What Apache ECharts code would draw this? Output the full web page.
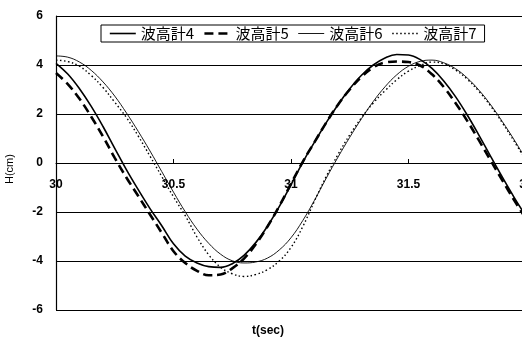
<!DOCTYPE html>
<html>
<head>
<meta charset="utf-8">
<script src="https://cdn.jsdelivr.net/npm/echarts@6/dist/echarts.min.js"></script>
<style>
html,body{margin:0;padding:0;background:#fff;}
#c{width:522px;height:338px;}
</style>
</head>
<body>
<div id="c"></div>
<script>
// time (sec)
var times = [30.00,30.05,30.10,30.15,30.20,30.25,30.30,30.35,30.40,30.45,
             30.50,30.55,30.60,30.65,30.70,30.75,30.80,30.85,30.90,30.95,
             31.00,31.05,31.10,31.15,31.20,31.25,31.30,31.35,31.40,31.45,
             31.50,31.55,31.60,31.65,31.70,31.75,31.80,31.85,31.90,31.95,
             32.00];
var seriesNames = ['波高計4','波高計5','波高計6','波高計7'];
// H (cm)
var h4 = [4.07,3.63,3.03,2.31,1.49,0.60,-0.28,-1.09,-1.86,-2.56,
          -3.30,-3.80,-4.08,-4.23,-4.26,-4.11,-3.77,-3.25,-2.58,-1.78,
          -0.89,0.03,0.85,1.65,2.38,3.03,3.58,4.00,4.29,4.43,
          4.41,4.22,3.86,3.35,2.71,1.96,1.13,0.26,-0.59,-1.41,
          -2.18];
var h5 = [3.67,3.22,2.62,1.89,1.08,0.21,-0.60,-1.35,-2.10,-2.85,
          -3.60,-4.08,-4.40,-4.58,-4.55,-4.30,-3.90,-3.32,-2.59,-1.76,
          -0.85,0.05,0.85,1.65,2.38,3.00,3.52,3.90,4.10,4.14,
          4.12,3.98,3.62,3.10,2.45,1.72,0.92,0.10,-0.72,-1.52,
          -2.28];
var h6 = [4.37,4.32,4.12,3.78,3.31,2.73,2.04,1.29,0.49,-0.35,
          -1.19,-1.99,-2.70,-3.28,-3.72,-3.99,-4.08,-4.04,-3.88,-3.55,
          -3.05,-2.35,-1.52,-0.62,0.24,1.05,1.81,2.51,3.11,3.60,
          3.95,4.15,4.20,4.09,3.85,3.47,2.97,2.37,1.68,0.94,
          0.15];
var h7 = [4.20,4.14,3.95,3.57,3.08,2.48,1.85,1.10,0.28,-0.55,
          -1.38,-2.15,-3.02,-3.75,-4.25,-4.52,-4.63,-4.55,-4.35,-4.00,
          -3.45,-2.60,-1.55,-0.55,0.35,1.15,1.85,2.45,2.95,3.40,
          3.75,3.98,4.12,4.05,3.80,3.42,2.92,2.32,1.63,0.88,
          0.10];
var xTicks = [30, 30.5, 31, 31.5, 32];
var yTicks = [-6, -4, -2, 0, 2, 4, 6];

function pairs(arr){ return times.map(function(t,i){ return [t, arr[i]]; }); }

var chart = echarts.init(document.getElementById('c'), null, {renderer:'canvas'});
var lineStyles = [
  {color:'#000', width:1.6, type:'solid'},
  {color:'#000', width:2.6, type:[9,5]},
  {color:'#000', width:0.9, type:'solid'},
  {color:'#000', width:1.4, type:[1.5,2.5]}
];
var datas = [h4,h5,h6,h7];
chart.setOption({
  backgroundColor:'#fff',
  animation:false,
  textStyle:{fontFamily:'Liberation Sans, Arial, sans-serif'},
  grid:{left:56, right:-4, top:16, bottom:28, containLabel:false, outerBoundsMode:'none'},
  legend:{
    left:101, top:25,
    data:seriesNames.map(function(n,i){ return {name:n, lineStyle:lineStyles[i]}; }),
    itemWidth:26, itemHeight:14, itemGap:9,
    padding:[1,8],
    borderColor:'#000', borderWidth:1,
    backgroundColor:'#fff',
    itemStyle:{opacity:0},
    textStyle:{fontFamily:'Noto Sans CJK JP, sans-serif', fontSize:15, color:'#000'}
  },
  xAxis:{
    type:'value', min:30, max:32, interval:0.5,
    offset:-147,
    axisLine:{show:true, onZero:false, lineStyle:{color:'#000', width:1}},
    axisTick:{show:true, inside:true, length:4, lineStyle:{color:'#000'}},
    axisLabel:{color:'#000', fontSize:12, fontWeight:'bold', margin:16,
      formatter:function(v){ var i = xTicks.indexOf(v); return i>=0 ? String(xTicks[i]) : ''; }},
    splitLine:{show:false}
  },
  yAxis:{
    type:'value', min:-6, max:6, interval:2,
    axisLine:{show:true, lineStyle:{color:'#000', width:1.2}},
    axisTick:{show:false},
    axisLabel:{color:'#000', fontSize:12, fontWeight:'bold', margin:13,
      formatter:function(v){ var i = yTicks.indexOf(v); return i>=0 ? String(yTicks[i]) : ''; }},
    splitLine:{show:true, lineStyle:{color:'#000', width:1}}
  },
  graphic:[
    {type:'text', x:4, y:184, rotation:Math.PI/2, style:{text:'H(cm)', fontSize:11, fill:'#000', fontFamily:'Liberation Sans, Arial, sans-serif'}},
    {type:'text', left:252, top:325, style:{text:'t(sec)', fontSize:12, fontWeight:'bold', fill:'#000', fontFamily:'Liberation Sans, Arial, sans-serif'}}
  ],
  series: seriesNames.map(function(n,i){
    return {
      name:n, type:'line', data:pairs(datas[i]), smooth:0.4,
      showSymbol:false, symbol:'none', clip:true,
      lineStyle:lineStyles[i], itemStyle:{color:'#000'}
    };
  })
});
</script>
</body>
</html>
